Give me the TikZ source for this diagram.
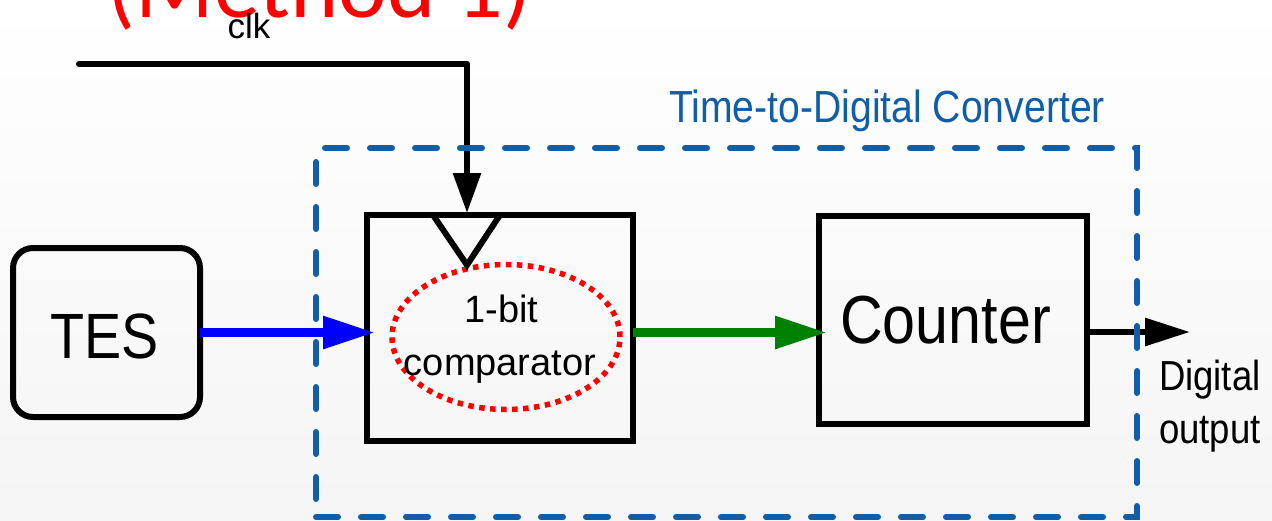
\documentclass[tikz,border=0pt]{standalone}
\usepackage{fontspec}
\setmainfont{Liberation Sans}
\newfontfamily\condfont{Liberation Sans}[FakeStretch=0.87]
\newfontfamily\titlefont{Carlito}
\usetikzlibrary{arrows.meta,shapes.geometric,calc}
\definecolor{ttdblue}{RGB}{16,94,168}
\definecolor{dkgreen}{RGB}{0,128,0}
\begin{document}
\begin{tikzpicture}[x=1pt,y=-1pt,
  box/.style={draw=black,line width=6pt,outer sep=0pt,inner sep=0pt},
  lbl/.style={inner sep=0pt,outer sep=0pt,anchor=base},
  wire/.style={line width=6pt,draw=black},
]
\useasboundingbox (0,0) rectangle (1272,520);
\clip (0,0) rectangle (1272,520);
\shade[top color=white,bottom color=black!4] (0,0) rectangle (1272,520);

% title (cut off at top)
\node[lbl,text=red,font=\titlefont\fontsize{92}{92}\selectfont] (title) at (319.5,17) {(Method 1)};
\node[lbl,font=\fontsize{35}{35}\selectfont] (clk) at (249,38) {clk};

% TTD label
\node[lbl,text=ttdblue,font=\condfont\fontsize{45}{45}\selectfont] (ttdlbl) at (887,122) {Time-to-Digital Converter};

% boxes
\node[box,rounded corners=20pt,minimum width=187pt,minimum height=169pt] (tes) at (106.5,332.5) {};
\node[lbl,font=\condfont\fontsize{64}{64}\selectfont] (testxt) at (104.5,358) {TES};

\node[box,minimum width=266pt,minimum height=226pt] (cmp) at (500,328) {};
\node[draw=red,line width=5.5pt,dash pattern=on 5.5pt off 5.5pt,ellipse,inner sep=0pt,minimum width=228pt,minimum height=145pt] (ring) at (506,337) {};
\node[lbl,font=\fontsize{38}{38}\selectfont] (cmptxt1) at (501.5,322) {1-bit};
\node[lbl,font=\fontsize{38}{38}\selectfont] (cmptxt2) at (500,375) {comparator};

\node[box,minimum width=268pt,minimum height=208pt] (cnt) at (953,320) {};
\node[lbl,font=\condfont\fontsize{68}{68}\selectfont] (cnttxt) at (945.5,343) {Counter};

\node[lbl,anchor=base west,font=\condfont\fontsize{42}{42}\selectfont] (dig1) at (1159,390) {Digital};
\node[lbl,anchor=base west,font=\condfont\fontsize{42}{42}\selectfont] (dig2) at (1159,443) {output};

% clock input
\coordinate (clkstart) at (79,64);
\coordinate (clkin) at ([xshift=100pt]cmp.north west);
\draw[wire,line cap=round,line join=round,-{Triangle[length=40pt,width=27pt]},shorten >=2pt]
  (clkstart) -- (clkstart -| clkin) -- (clkin);
\draw[wire,line join=miter] ([xshift=66pt]cmp.north west) -- ([yshift=-50pt]clkin) -- ([xshift=133pt]cmp.north west);

% signal arrows
\draw[line width=9pt,draw=blue,fill=blue,-{Triangle[length=52pt,width=31pt]},shorten >=-8pt]
  (tes.east) -- (tes.east -| cmp.west);
\draw[line width=9pt,draw=dkgreen,fill=dkgreen,-{Triangle[length=52pt,width=31pt]},shorten >=-8pt]
  (cmp.east |- tes.east) -- (cnt.west |- tes.east);
\coordinate (out) at (1190,332);
\draw[wire,-{Triangle[length=45pt,width=27pt]}] (cnt.east |- out) -- (out);

% TDC frame
\node[draw=ttdblue,line width=6pt,dash pattern=on 22pt off 23pt,line cap=round,minimum width=821pt,minimum height=369pt,inner sep=0pt,outer sep=0pt] (ttd) at (726.5,332.5) {};
\end{tikzpicture}
\end{document}
